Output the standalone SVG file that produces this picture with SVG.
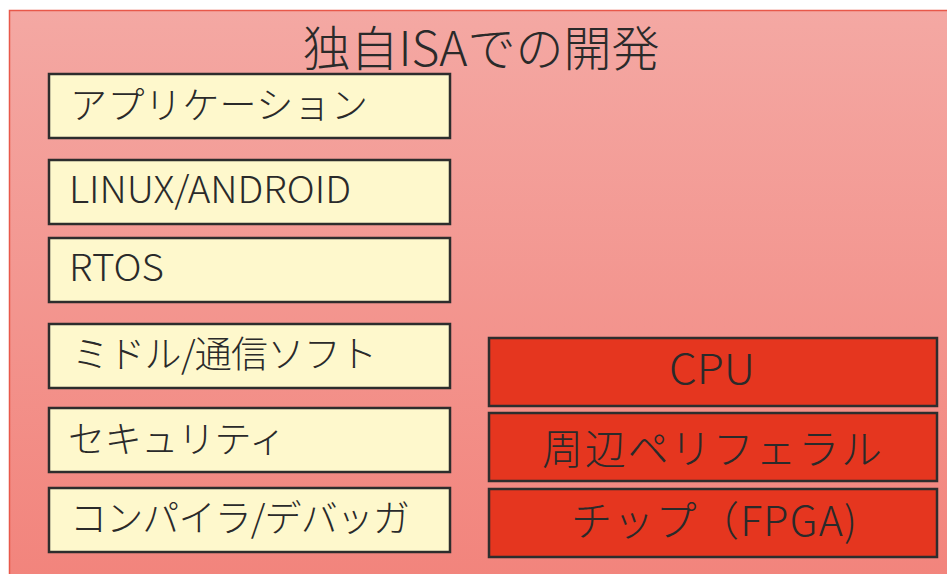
<svg xmlns="http://www.w3.org/2000/svg" width="947" height="574" viewBox="0 0 947 574">
<defs>
<linearGradient id="bg" x1="0" y1="0" x2="0" y2="1">
<stop offset="0" stop-color="#f4a8a3"/>
<stop offset="1" stop-color="#f2827a"/>
</linearGradient>
</defs>
<style>
.t{font-family:"Noto Sans CJK JP","Noto Sans",sans-serif;fill:#2a2a2a;font-weight:300}
.y{fill:#fef8cc;stroke:#2d2d2d;stroke-width:2.5}
.r{fill:#e5361f;stroke:#2d2d2d;stroke-width:2.5}
.ty{font-size:37px}
.tr{font-size:41px;text-anchor:middle}
</style>
<g id="frame">
<rect x="9.5" y="10.5" width="960" height="600" fill="url(#bg)" stroke="#e8584a" stroke-width="1.5"/>
<text class="t" x="481" y="66" font-size="48" text-anchor="middle" textLength="357">独自ISAでの開発</text>
</g>
<g id="app"><rect class="y" x="49" y="74" width="401" height="64"/><text class="t ty" x="70" y="119" textLength="298">アプリケーション</text></g>
<g id="linux"><rect class="y" x="49" y="160" width="401" height="64"/><text class="t ty" x="69" y="203" font-size="38" textLength="282" lengthAdjust="spacingAndGlyphs">LINUX/ANDROID</text></g>
<g id="rtos"><rect class="y" x="49" y="238" width="401" height="64"/><text class="t ty" x="69" y="281" font-size="38" textLength="95" lengthAdjust="spacingAndGlyphs">RTOS</text></g>
<g id="middle"><rect class="y" x="49" y="324" width="401" height="64"/><text class="t ty" x="72" y="368" textLength="305">ミドル/通信ソフト</text></g>
<g id="security"><rect class="y" x="49" y="408" width="401" height="64"/><text class="t ty" x="68" y="453" textLength="218">セキュリティ</text></g>
<g id="compiler"><rect class="y" x="49" y="488" width="401" height="64"/><text class="t ty" x="70" y="532" textLength="340">コンパイラ/デバッガ</text></g>
<g id="cpu"><rect class="r" x="489" y="338" width="448" height="68"/><text class="t tr" x="712" y="384" font-size="39" textLength="86" lengthAdjust="spacingAndGlyphs">CPU</text></g>
<g id="peripheral"><rect class="r" x="489" y="413" width="448" height="68"/><text class="t tr" x="712" y="464" textLength="340">周辺ペリフェラル</text></g>
<g id="chip"><rect class="r" x="489" y="489" width="448" height="68"/><text class="t tr" x="714" y="536" textLength="286">チップ（FPGA)</text></g>
<g id="connectors"/>
</svg>
